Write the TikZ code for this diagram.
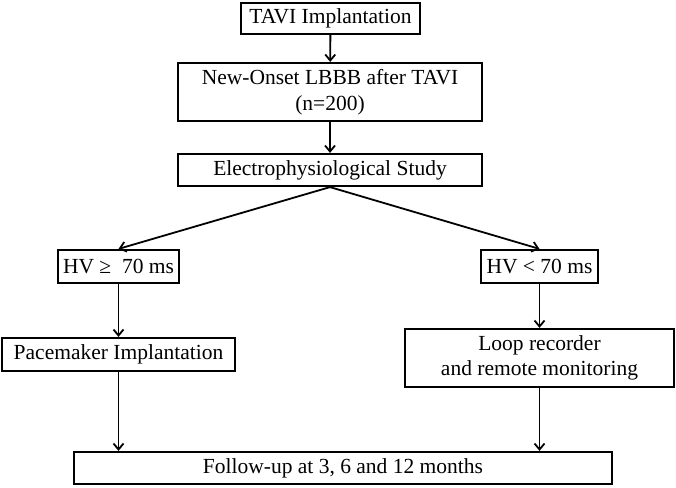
\documentclass[tikz,border=0pt]{standalone}
\usepackage{fontspec}
\setmainfont{Liberation Serif}
\usetikzlibrary{arrows.meta}
\begin{document}
\begin{tikzpicture}[x=1pt,y=-1pt,
  box/.style={draw,line width=2.2pt,inner sep=0pt,align=center,font=\fontsize{21.5}{25.5}\selectfont},
  arr/.style={line width=1.8pt,-{Straight Barb[length=6pt,width=10pt,line width=1.8pt]}}]
\useasboundingbox (0,0) rectangle (676,487);
\node[box,minimum width=179pt,minimum height=31pt] (tavi) at (330.5,18.5) {TAVI Implantation};
\node[box,minimum width=304pt,minimum height=58pt] (lbbb) at (330,92) {New-Onset LBBB after TAVI\\(n=200)};
\node[box,minimum width=304pt,minimum height=32pt] (eps) at (330,170) {Electrophysiological Study};
\node[box,minimum width=121pt,minimum height=33pt] (hvge) at (118.5,266.5) {HV ≥~ 70 ms};
\node[box,minimum width=233pt,minimum height=33pt] (pace) at (118.5,354.5) {Pacemaker Implantation};
\node[box,minimum width=117pt,minimum height=33pt] (hvlt) at (539.5,266.5) {HV < 70 ms};
\node[box,minimum width=269pt,minimum height=58pt] (loop) at (539.5,358) {Loop recorder\\and remote monitoring};
\node[box,minimum width=538pt,minimum height=32pt] (fu) at (343,468) {Follow-up at 3, 6 and 12 months};
\draw[arr] (tavi) -- (lbbb);
\draw[arr] (lbbb) -- (eps);
\draw[arr] (eps.south) -- (hvge.north);
\draw[arr] (eps.south) -- (hvlt.north);
\draw[arr] (hvge) -- (pace);
\draw[arr] (hvlt) -- (loop);
\draw[arr] (pace.south) -- (pace.south |- fu.north);
\draw[arr] (loop.south) -- (loop.south |- fu.north);
\end{tikzpicture}
\end{document}
